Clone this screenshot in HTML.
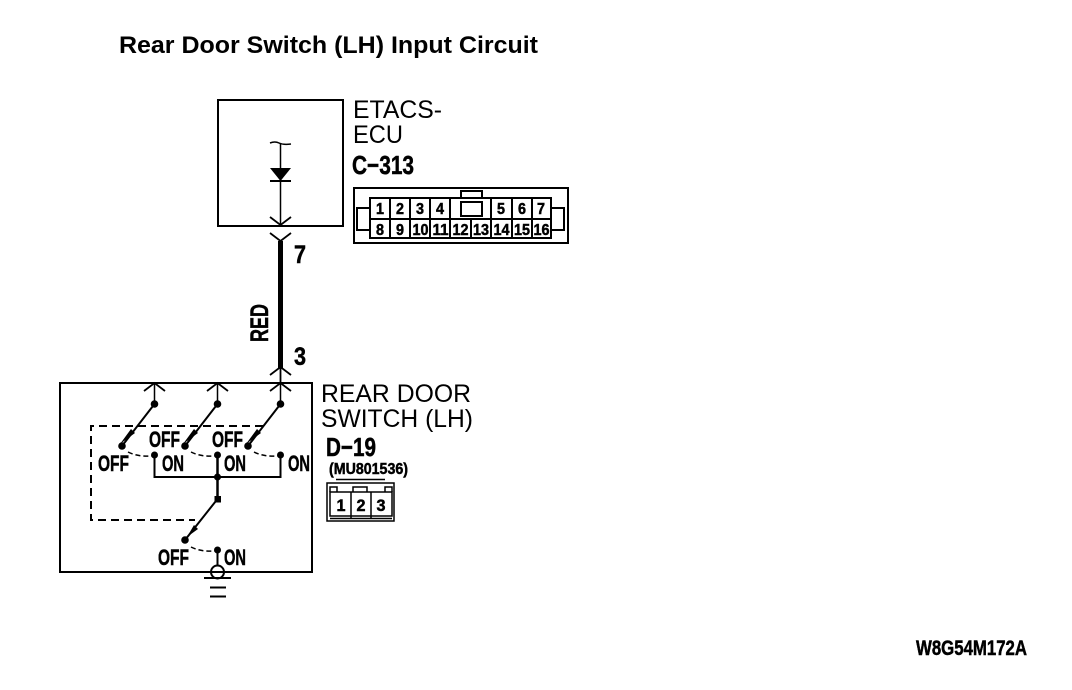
<!DOCTYPE html>
<html><head><meta charset="utf-8">
<style>
html,body{margin:0;padding:0;background:#fff;width:1072px;height:690px;overflow:hidden}
svg{display:block;font-family:"Liberation Sans",sans-serif}
.n{font-weight:bold;fill:#000;stroke:#000;stroke-width:.5}
.t{fill:#000}
</style></head><body>
<svg width="1072" height="690" viewBox="0 0 1072 690" xmlns="http://www.w3.org/2000/svg">
<rect width="1072" height="690" fill="#fff"/>
<text class="t" x="119" y="53" font-size="24.500" font-weight="bold" textLength="419" lengthAdjust="spacingAndGlyphs">Rear Door Switch (LH) Input Circuit</text>

<g fill="none" stroke="#000" stroke-width="2" shape-rendering="crispEdges">
<rect x="218" y="100" width="125" height="126"/>
<rect x="60" y="383" width="252" height="189"/>
</g>

<!-- ECU internals -->
<g fill="none" stroke="#000">
<path d="M280.500 143V226" stroke-width="1.500"/>
<path d="M270 143Q275 141 279 143T291 144" stroke-width="1.500"/>
<path d="M270 217L280.500 225L291 217M270 233L280.500 241L291 233" stroke-width="1.800"/>
<path d="M270 181H291" stroke-width="2"/>
<path d="M280.500 241V368" stroke-width="5"/>
<path d="M270 375L280.500 367L291 375M280.500 367V383" stroke-width="1.800"/>
<path d="M144 391L154.500 383L165 391M207 391L217.500 383L228 391M270 391L280.500 383L291 391" stroke-width="1.800"/>
<path d="M154.500 383V404M217.500 383V404M280.500 383V404" stroke-width="1.500"/>
</g>
<path d="M270 168H291L280.500 181Z" fill="#000"/>

<!-- switches -->
<g fill="none" stroke="#000" stroke-width="2">
<path d="M154.500 404L122 446M217.500 404L185 446M280.500 404L248 446M217.500 499L185 540"/>
<path d="M154.500 455V477H280.500V455"/>
<path d="M217.500 455V499" stroke-width="2.500"/>
<path d="M217.500 550V566"/>
<circle cx="217.500" cy="572" r="6.500"/>
<path d="M204 578H231M210 587.500H226M210 596.500H226"/>
<path d="M263 426H91V520H195" stroke-dasharray="8 5"/>
</g>
<g fill="none" stroke="#000" stroke-width="1.500" stroke-dasharray="5 3">
<path d="M128 452Q138 457 152 456"/>
<path d="M191 452Q201 457 215 456"/>
<path d="M254 452Q264 457 278 456"/>
<path d="M191 547Q201 552 215 551"/>
</g>
<g fill="#000">
<circle cx="154.500" cy="404" r="3.800"/><circle cx="217.500" cy="404" r="3.800"/><circle cx="280.500" cy="404" r="3.800"/>
<circle cx="122" cy="446" r="3.800"/><circle cx="185" cy="446" r="3.800"/><circle cx="248" cy="446" r="3.800"/>
<circle cx="154.500" cy="455" r="3.500"/><circle cx="217.500" cy="455" r="3.500"/><circle cx="280.500" cy="455" r="3.500"/>
<circle cx="217.500" cy="477" r="3.500"/><rect x="214.500" y="496" width="6.500" height="6.500"/>
<circle cx="185" cy="540" r="3.800"/><circle cx="217.500" cy="550" r="3.500"/>
<path d="M120 444L131 429L135 433Z M183 444L194 429L198 433Z M246 444L257 429L261 433Z M187 537L194 525L198 529Z"/>
</g>

<!-- switch labels -->
<g class="n" font-size="22">
<text x="98" y="471" textLength="31" lengthAdjust="spacingAndGlyphs">OFF</text>
<text x="149" y="447" textLength="31" lengthAdjust="spacingAndGlyphs">OFF</text>
<text x="212" y="447" textLength="31" lengthAdjust="spacingAndGlyphs">OFF</text>
<text x="162" y="471" textLength="22" lengthAdjust="spacingAndGlyphs">ON</text>
<text x="224" y="471" textLength="22" lengthAdjust="spacingAndGlyphs">ON</text>
<text x="288" y="471" textLength="22" lengthAdjust="spacingAndGlyphs">ON</text>
<text x="158" y="565" textLength="31" lengthAdjust="spacingAndGlyphs">OFF</text>
<text x="224" y="565" textLength="22" lengthAdjust="spacingAndGlyphs">ON</text>
</g>

<!-- wire labels -->
<g class="n">
<text x="294" y="263" font-size="25" textLength="12" lengthAdjust="spacingAndGlyphs">7</text>
<text x="294" y="365" font-size="25" textLength="12" lengthAdjust="spacingAndGlyphs">3</text>
<text transform="translate(268,342) rotate(-90)" font-size="25" textLength="38" lengthAdjust="spacingAndGlyphs">RED</text>
</g>

<!-- ECU labels -->
<g class="t" font-size="25">
<text x="353" y="118" textLength="89" lengthAdjust="spacingAndGlyphs">ETACS-</text>
<text x="353" y="143" textLength="50" lengthAdjust="spacingAndGlyphs">ECU</text>
<text x="321" y="402" textLength="150" lengthAdjust="spacingAndGlyphs">REAR DOOR</text>
<text x="321" y="427" textLength="152" lengthAdjust="spacingAndGlyphs">SWITCH (LH)</text>
</g>
<text class="n" x="352" y="174" font-size="26" textLength="62" lengthAdjust="spacingAndGlyphs">C−313</text>
<text class="n" x="326" y="456" font-size="26" textLength="50" lengthAdjust="spacingAndGlyphs">D−19</text>
<text class="n" x="329" y="474" font-size="16" textLength="79" lengthAdjust="spacingAndGlyphs">(MU801536)</text>
<text class="n" x="916" y="655" font-size="21" textLength="111" lengthAdjust="spacingAndGlyphs">W8G54M172A</text>

<!-- C-313 connector -->
<g fill="none" stroke="#000" stroke-width="2" shape-rendering="crispEdges">
<rect x="354" y="188" width="214" height="55"/>
<rect x="370" y="198" width="181" height="40"/>
<path d="M370 219H551"/>
<path d="M390 198V238M410 198V238M430 198V238M450 198V238M491 198V238M512 198V238M532 198V238M471 219V238"/>
<rect x="461" y="202" width="21" height="14"/>
<path d="M461 198V191H482V198"/>
<path d="M370 208H357V230H370M551 208H564V230H551"/>
</g>
<g class="n" font-size="16" text-anchor="middle">
<text x="380" y="214" textLength="8" lengthAdjust="spacingAndGlyphs">1</text><text x="400" y="214" textLength="8" lengthAdjust="spacingAndGlyphs">2</text><text x="420" y="214" textLength="8" lengthAdjust="spacingAndGlyphs">3</text><text x="440" y="214" textLength="8" lengthAdjust="spacingAndGlyphs">4</text>
<text x="501" y="214" textLength="8" lengthAdjust="spacingAndGlyphs">5</text><text x="522" y="214" textLength="8" lengthAdjust="spacingAndGlyphs">6</text><text x="541" y="214" textLength="8" lengthAdjust="spacingAndGlyphs">7</text>
<text x="380" y="235" textLength="8" lengthAdjust="spacingAndGlyphs">8</text><text x="400" y="235" textLength="8" lengthAdjust="spacingAndGlyphs">9</text>
<text x="420.500" y="235" textLength="16" lengthAdjust="spacingAndGlyphs">10</text>
<text x="440.500" y="235" textLength="16" lengthAdjust="spacingAndGlyphs">11</text>
<text x="460.500" y="235" textLength="16" lengthAdjust="spacingAndGlyphs">12</text>
<text x="481" y="235" textLength="16" lengthAdjust="spacingAndGlyphs">13</text>
<text x="501.500" y="235" textLength="16" lengthAdjust="spacingAndGlyphs">14</text>
<text x="522" y="235" textLength="16" lengthAdjust="spacingAndGlyphs">15</text>
<text x="541.500" y="235" textLength="16" lengthAdjust="spacingAndGlyphs">16</text>
</g>

<!-- D-19 connector -->
<g fill="none" stroke="#000" stroke-width="1.500">
<rect x="327" y="483" width="67" height="38"/>
<path d="M336 479.500H385"/>
<path d="M330 492H392V516H330ZM351 492V518M371 492V518M330 518.500H392"/>
<path d="M330 492V487H337V492M353 492V487H367V492M385 492V487H392V492"/>
</g>
<g class="n" font-size="17" text-anchor="middle">
<text x="341" y="511" textLength="9" lengthAdjust="spacingAndGlyphs">1</text><text x="361" y="511" textLength="9" lengthAdjust="spacingAndGlyphs">2</text><text x="381" y="511" textLength="9" lengthAdjust="spacingAndGlyphs">3</text>
</g>
</svg>
</body></html>
